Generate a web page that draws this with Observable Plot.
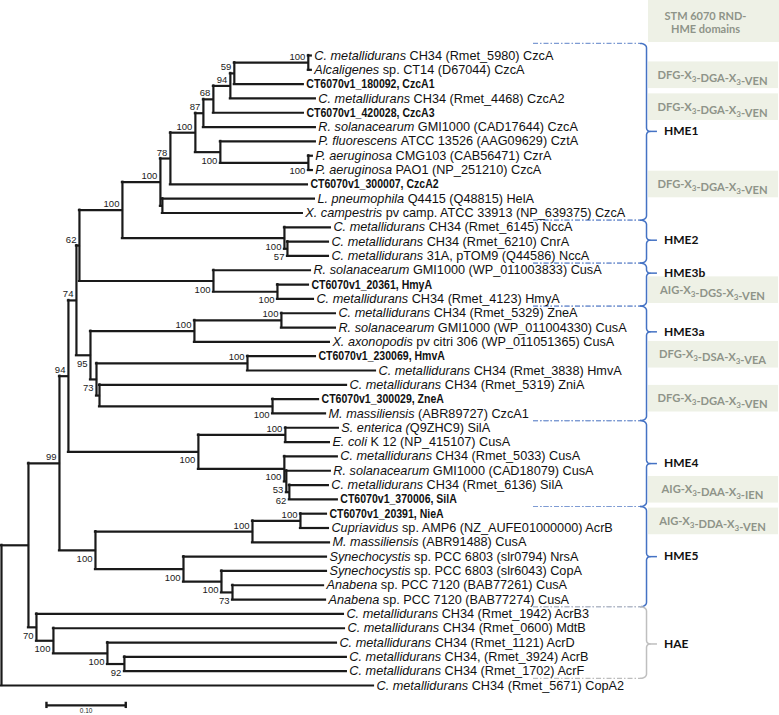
<!DOCTYPE html>
<html>
<head>
<meta charset="utf-8">
<script src="https://cdn.jsdelivr.net/npm/d3@7"></script>
<script src="https://cdn.jsdelivr.net/npm/@observablehq/plot@0.6"></script>
<style>
  body { margin: 0; background: #fff; }
  #chart { position: relative; width: 779px; height: 715px; overflow: hidden; }
  #hdr { position: absolute; left: 648px; top: 0; width: 131px; height: 42px; background: #eef1e6;
         box-sizing: border-box; padding-right: 16px; padding-top: 3px; display: flex; align-items: center; justify-content: center;
         text-align: center; font: 700 11px/12.5px Lato, "Open Sans", sans-serif; color: #8e9489; }
</style>
</head>
<body>
<div id="chart"><div id="hdr">STM 6070 RND-<br>HME domains</div></div>
<script>
// ---- Tree topology: node id, parent, branch length (subst./site), bootstrap ----
const nodeIds = ["root","n28","n99","n94a","n74","n62","n122","n160","n78","n195",
  "n87","n68","n94b","n59","n308","L1","L2","L3","L4","L5",
  "L6","n220","L7","nPA","L8","L9","L10","nLX","L11","L12",
  "nHME2","L13","n57","L14","L15","nHME3b","L16","n277","L17","L18",
  "n95","n194","n281","L19","L20","L21","n73","n247","L22","L23",
  "nIn","L24","n272","L25","L26","nHME4","nSE","L27","L28","nCu",
  "L29","n53","L30","n62b","L31","L32","nHME5","n252","n300","L33",
  "L34","L35","n183","L36","n221","L37","n232","L38","L39","n70",
  "L40","n53h","L41","n107","L42","n124","L43","L44","L45"];
const nodeParents = [null,"root","n28","n99","n94a","n74","n62","n122","n160","n78",
  "n195","n87","n68","n94b","n59","n308","n308","n59","n94b","n68",
  "n87","n195","n220","n220","nPA","nPA","n78","n160","nLX","nLX",
  "n122","nHME2","nHME2","n57","n57","n62","nHME3b","nHME3b","n277","n277",
  "n74","n95","n194","n281","n281","n194","n95","n73","n247","n247",
  "n73","nIn","nIn","n272","n272","n94a","nHME4","nSE","nSE","nHME4",
  "nCu","nCu","n53","n53","n62b","n62b","n99","nHME5","n252","n300",
  "n300","n252","nHME5","n183","n183","n221","n221","n232","n232","n28",
  "n70","n70","n53h","n53h","n107","n107","n124","n124","root"];
const branchLengths = [0,0.0340,0.0391,0.0113,0.0101,0.0038,0.0542,0.0479,0.0126,0.0315,
  0.0101,0.0126,0.0214,0.0050,0.0933,0.0038,0.0038,0.0870,0.1072,0.1135,
  0.1412,0.0315,0.1198,0.1110,0.0050,0.0050,0.1728,0.0025,0.1917,0.1765,
  0.2043,0.0580,0.0038,0.0517,0.0517,0.1690,0.1223,0.0807,0.0391,0.0454,
  0.0177,0.1311,0.1097,0.0681,0.0681,0.1702,0.0076,0.1904,0.0857,0.1614,
  0.0038,0.3115,0.2182,0.0580,0.0668,0.1639,0.1097,0.0668,0.0555,0.1084,
  0.0668,0.0025,0.0555,0.0038,0.0492,0.0605,0.0454,0.1980,0.0605,0.0328,
  0.0353,0.0971,0.1110,0.1803,0.0479,0.1324,0.0139,0.1148,0.1173,0.0101,
  0.3871,0.0214,0.3670,0.0681,0.2888,0.0214,0.2799,0.2799,0.4691];
const bootstrapValues = [null,null,99,94,74,62,100,100,78,100,
  87,68,94,59,100,null,null,null,null,null,
  null,100,null,100,null,null,null,null,null,null,
  100,null,57,null,null,100,null,100,null,null,
  95,100,100,null,null,null,73,100,null,null,
  null,null,100,null,null,100,100,null,null,100,
  null,53,null,62,null,null,100,100,100,null,
  null,null,100,null,100,null,73,null,null,70,
  null,100,null,100,null,92,null,null,null];

// ---- Leaf labels (L1..L45, top to bottom): italic taxon + plain detail ----
const leafTaxa = ["C. metallidurans","Alcaligenes","","C. metallidurans","",
  "R. solanacearum","P. fluorescens","P. aeruginosa","P. aeruginosa","",
  "L. pneumophila","X. campestris","C. metallidurans","C. metallidurans","C. metallidurans",
  "R. solanacearum","","C. metallidurans","C. metallidurans","R. solanacearum",
  "X. axonopodis","","C. metallidurans","C. metallidurans","",
  "M. massiliensis","S. enterica (","E. coli","C. metallidurans","R. solanacearum",
  "C. metallidurans","","","Cupriavidus","M. massiliensis",
  "Synechocystis","Synechocystis","Anabena","Anabena","C. metallidurans",
  "C. metallidurans","C. metallidurans","C. metallidurans","C. metallidurans","C. metallidurans"];
const leafDetails = ["CH34 (Rmet_5980) CzcA","sp. CT14 (D67044) CzcA","CT6070v1_180092, CzcA1","CH34 (Rmet_4468) CzcA2","CT6070v1_420028, CzcA3",
  "GMI1000 (CAD17644) CzcA","ATCC 13526 (AAG09629) CztA","CMG103 (CAB56471) CzrA","PAO1 (NP_251210) CzcA","CT6070v1_300007, CzcA2",
  "Q4415 (Q48815) HelA","pv camp. ATCC 33913 (NP_639375) CzcA","CH34 (Rmet_6145) NccA","CH34 (Rmet_6210) CnrA","31A, pTOM9 (Q44586) NccA",
  "GMI1000 (WP_011003833) CusA","CT6070v1_20361, HmyA","CH34 (Rmet_4123) HmyA","CH34 (Rmet_5329) ZneA","GMI1000 (WP_011004330) CusA",
  "pv citri 306 (WP_011051365) CusA","CT6070v1_230069, HmvA","CH34 (Rmet_3838) HmvA","CH34 (Rmet_5319) ZniA","CT6070v1_300029, ZneA",
  "(ABR89727) CzcA1","Q9ZHC9) SilA","K 12 (NP_415107) CusA","CH34 (Rmet_5033) CusA","GMI1000 (CAD18079) CusA",
  "CH34 (Rmet_6136) SilA","CT6070v1_370006, SilA","CT6070v1_20391, NieA","sp. AMP6 (NZ_AUFE01000000) AcrB","(ABR91488) CusA",
  "sp. PCC 6803 (slr0794) NrsA","sp. PCC 6803 (slr6043) CopA","sp. PCC 7120 (BAB77261) CusA","sp. PCC 7120 (BAB77274) CusA","CH34 (Rmet_1942) AcrB3",
  "CH34 (Rmet_0600) MdtB","CH34 (Rmet_1121) AcrD","CH34, (Rmet_3924) AcrB","CH34 (Rmet_1702) AcrF","CH34 (Rmet_5671) CopA2"];

// ---- Clades (leaf numbers, 1-based) ----
const groupNames = ["HME1","HME2","HME3b","HME3a","HME4","HME5","HAE"];
const groupFirstLeaf = [1,13,16,19,27,33,40];
const groupLastLeaf = [12,15,18,26,32,39,44];
const groupLabelRow = [6.3,13.9,16.2,20.3,29.5,36,42.1];

// ---- STM 6070 RND-HME domain motifs (row = position on leaf axis, 1-based) ----
const domainMotifs = ["DFG-X3-DGA-X3-VEN","DFG-X3-DGA-X3-VEN","DFG-X3-DGA-X3-VEN","AIG-X3-DGS-X3-VEN",
  "DFG-X3-DSA-X3-VEA","DFG-X3-DGA-X3-VEN","AIG-X3-DAA-X3-IEN","AIG-X3-DDA-X3-VEN"];
const domainRow = [2.38,4.61,10.01,17.39,21.9,24.97,31.33,33.54];

const scaleBarLength = 0.10;

// ---------------- layout ----------------
const nodes = nodeIds.map((id, i) => ({id, parent: nodeParents[i], bl: branchLengths[i], boot: bootstrapValues[i]}));
const root = d3.stratify().id(d => d.id).parentId(d => d.parent)(nodes);
root.eachBefore(n => { n.px = n.parent ? n.parent.px + n.data.bl : 0; });
const leaves = root.leaves();
leaves.forEach((n, i) => { n.py = i; });
root.eachAfter(n => { if (n.children) n.py = (n.children[0].py + n.children[n.children.length - 1].py) / 2; });
const all = root.descendants();
const edges = all.filter(n => n.parent).map(n => ({x1: n.parent.px, x2: n.px, y: n.py}));
const verts = all.filter(n => n.children).map(n => ({x: n.px, y1: n.children[0].py, y2: n.children[n.children.length - 1].py}));
const boots = all.filter(n => n.data.boot != null).map(n => ({x: n.px, y: n.py, t: String(n.data.boot),
  above: n.parent.children[0] === n}));
const fullLabel = i => leafTaxa[i] ? leafTaxa[i] + (leafTaxa[i].endsWith("(") ? "" : " ") + leafDetails[i] : leafDetails[i];
const tips = leaves.map((n, i) => ({x: n.px, y: i, label: fullLabel(i)}));
const labelIndex = new Map(tips.map((d, i) => [d.label, i]));

// annotation column (in branch-length units of the x scale)
const xMax = 0.9811;
const dashX1 = 0.6709, braceX = 0.8134, hookW = 0.0076, tipW = 0.0044, tickX2 = 0.8272, grpLabelX = 0.8354;
const boxX1 = 0.8159, boxX2 = 0.9799, boxTextX = 0.8966;

const groups = groupNames.map((g, i) => ({g, y0: groupFirstLeaf[i] - 1.5 - (i === 0 ? 0.34 : 0), y1: groupLastLeaf[i] - 0.5,
  ym: groupLabelRow[i] - 1, gray: g === "HAE"}));
function bracePoints(gr) {
  const pts = [], r = 0.3, r2 = 0.25, N = 6;
  const arc = (cx, cy, rx, ry, a0, a1) => { for (let k = 0; k <= N; k++) { const a = (a0 + (a1 - a0) * k / N) * Math.PI / 180;
    pts.push({g: gr.g, x: cx + rx * Math.cos(a), y: cy + ry * Math.sin(a)}); } };
  arc(braceX - hookW, gr.y0 + r, hookW, r, -90, 0);
  arc(braceX + tipW, gr.ym - r2, tipW, r2, 180, 90);
  arc(braceX + tipW, gr.ym + r2, tipW, r2, 270, 180);
  arc(braceX - hookW, gr.y1 - r, hookW, r, 0, 90);
  return pts;
}
const braceBlue = groups.filter(d => !d.gray).flatMap(bracePoints);
const braceGray = groups.filter(d => d.gray).flatMap(bracePoints);
const dashLines = groups.flatMap(d => [{y: d.y0, gray: d.gray}, {y: d.y1, gray: d.gray}]);
const domains = domainMotifs.map((m, i) => ({m, row: domainRow[i] - 1}));

const last = leaves.length - 1;
const barX1 = 0.0567, barY = last + 1.39;
const ink = "#1a1a1a";

const plot = Plot.plot({
  width: 779, height: 715,
  marginLeft: 1, marginRight: 0, marginTop: 55, marginBottom: 30,
  x: {domain: [0, xMax], axis: null},
  y: {domain: [0, last], reverse: true, axis: null},
  style: {fontFamily: "'Liberation Sans', Arial, Helvetica, sans-serif", background: "white", color: ink},
  marks: [
    Plot.rect(domains, {x1: () => boxX1, x2: () => boxX2, y1: d => d.row - 0.93, y2: d => d.row + 0.93, fill: "#eef1e6"}),
    Plot.text(domains, {x: () => boxTextX, y: "row", text: "m", fontFamily: "Lato, 'Open Sans', sans-serif",
      fontWeight: 700, fontSize: 11.2, fill: "#8e9489"}),
    Plot.ruleY(dashLines.filter(d => !d.gray), {y: "y", x1: () => dashX1, x2: () => braceX - hookW, stroke: "#7e9bd3",
      strokeWidth: 1.2, strokeDasharray: "5,2,1.5,2"}),
    Plot.ruleY(dashLines.filter(d => d.gray), {y: "y", x1: () => dashX1, x2: () => braceX - hookW, stroke: "#bdbdbd",
      strokeWidth: 1.2, strokeDasharray: "5,2,1.5,2"}),
    Plot.line(braceBlue, {x: "x", y: "y", z: "g", stroke: "#4472c4", strokeWidth: 1.5}),
    Plot.line(braceGray, {x: "x", y: "y", z: "g", stroke: "#bfbfbf", strokeWidth: 1.5}),
    Plot.ruleY(groups, {y: "ym", x1: () => braceX + tipW, x2: () => tickX2, stroke: d => d.gray ? "#bfbfbf" : "#4472c4", strokeWidth: 1.5}),
    Plot.text(groups, {x: () => grpLabelX, y: "ym", text: "g", textAnchor: "start", fontFamily: "Lato, 'Open Sans', sans-serif",
      fontWeight: 700, fontSize: 12, fill: "#111"}),
    // tree
    Plot.ruleY(edges, {y: "y", x1: "x1", x2: "x2", stroke: ink, strokeWidth: 2.2, strokeLinecap: "square"}),
    Plot.ruleX(verts, {x: "x", y1: "y1", y2: "y2", stroke: ink, strokeWidth: 2.2, strokeLinecap: "square"}),
    Plot.text(boots.filter(d => d.above), {x: "x", y: "y", text: "t", textAnchor: "end", dx: -3, dy: -6, fontSize: 9.5, fill: ink}),
    Plot.text(boots.filter(d => !d.above), {x: "x", y: "y", text: "t", textAnchor: "end", dx: -3, dy: 8.5, fontSize: 9.5, fill: ink}),
    Plot.text(tips, {x: "x", y: "y", text: "label", textAnchor: "start", dx: 3, fontSize: 12.7, fill: "#111"}),
    // scale bar
    Plot.ruleY([barY], {x1: () => barX1, x2: () => barX1 + scaleBarLength, stroke: ink, strokeWidth: 2.4}),
    Plot.ruleX([barX1, barX1 + scaleBarLength], {x: d => d, y1: () => barY - 0.22, y2: () => barY + 0.22, stroke: ink, strokeWidth: 2.4}),
    Plot.text([scaleBarLength.toFixed(2)], {x: () => barX1 + scaleBarLength / 2, y: () => barY + 0.4, text: d => d, fontSize: 6.5, fill: ink})
  ]
});
document.getElementById("chart").prepend(plot);

// rich text: italic taxa, bold own sequences, subscript X3
const NS = "http://www.w3.org/2000/svg";
const tsp = (s) => { const e = document.createElementNS(NS, "tspan"); e.textContent = s; return e; };
plot.querySelectorAll("text").forEach(t => {
  const s = t.textContent;
  if (labelIndex.has(s)) {
    const i = labelIndex.get(s);
    t.textContent = "";
    if (leafTaxa[i]) {
      const a = tsp(leafTaxa[i] + (leafTaxa[i].endsWith("(") ? "" : " "));
      a.setAttribute("font-style", "italic");
      t.append(a);
    }
    t.append(tsp(leafDetails[i]));
    if (!leafTaxa[i]) {
      t.setAttribute("font-weight", "bold");
      const w = t.getComputedTextLength();
      t.setAttribute("textLength", (w * 0.83).toFixed(1));
      t.setAttribute("lengthAdjust", "spacingAndGlyphs");
    }
  } else if (s.includes("X3")) {
    const parts = s.split("X3");
    t.textContent = "";
    parts.forEach((p, k) => {
      t.append(tsp(p + (k < parts.length - 1 ? "X" : "")));
      if (k < parts.length - 1) {
        const sub = tsp("3");
        sub.setAttribute("font-size", "8");
        sub.setAttribute("dy", "3");
        t.append(sub);
        const back = tsp("");
        back.setAttribute("dy", "-3");
        t.append(back);
      }
    });
  }
});
</script>
</body>
</html>
